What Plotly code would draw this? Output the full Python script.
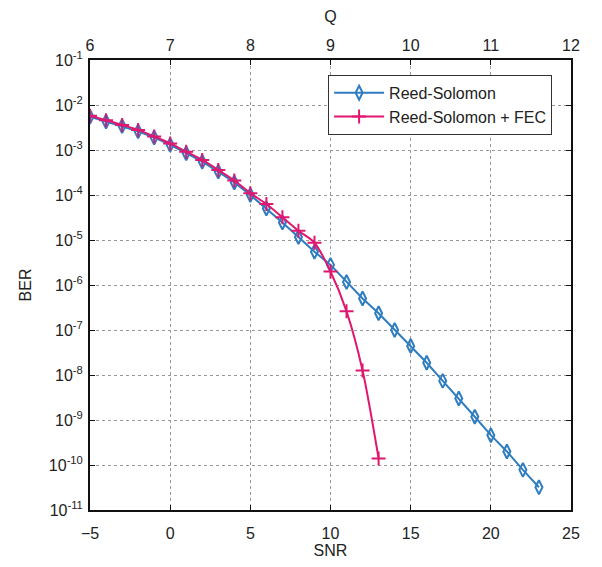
import plotly.graph_objects as go

snr_rs = list(range(-5, 24))
ber_rs = [5.5e-3, 4.3e-3, 3.4e-3, 2.6e-3, 1.9e-3, 1.3e-3, 8.5e-4, 5.5e-4, 3.3e-4, 1.9e-4,
          1.0e-4, 5.0e-5, 2.45e-5, 1.17e-5, 5.5e-6, 2.8e-6, 1.17e-6, 5.0e-7, 2.35e-7, 1.0e-7,
          4.4e-8, 1.87e-8, 7.4e-9, 3.0e-9, 1.18e-9, 4.6e-10, 2.0e-10, 7.8e-11, 3.2e-11]

snr_fec = list(range(-5, 14))
ber_fec = [5.8e-3, 4.6e-3, 3.6e-3, 2.8e-3, 2.0e-3, 1.4e-3, 9.2e-4, 6.0e-4, 3.6e-4, 2.1e-4,
           1.1e-4, 6.3e-5, 3.2e-5, 1.6e-5, 8.7e-6, 2.0e-6, 2.6e-7, 1.26e-8, 1.4e-10]

q_ticks = [6, 7, 8, 9, 10, 11, 12]
snr_ticks = [-5, 0, 5, 10, 15, 20, 25]
y_exps = list(range(-11, 0))

BLUE = "#2f7dc1"
MAG = "#e0176f"
FONT = "Liberation Sans, Arial, sans-serif"

fig = go.Figure()
fig.add_trace(go.Scatter(
    x=snr_rs, y=ber_rs, name="Reed-Solomon", mode="lines+markers",
    line=dict(color=BLUE, width=2),
    marker=dict(symbol="diamond-tall-open", size=10, color=BLUE, line=dict(width=2, color=BLUE)),
))
fig.add_trace(go.Scatter(
    x=snr_fec, y=ber_fec, name="Reed-Solomon + FEC", mode="lines+markers",
    line=dict(color=MAG, width=2, shape="spline", smoothing=0.8),
    marker=dict(symbol="cross-thin-open", size=10, color=MAG, line=dict(width=2, color=MAG)),
))
# invisible trace on top Q axis
fig.add_trace(go.Scatter(x=q_ticks, y=[1e-1] * len(q_ticks), xaxis="x2", mode="markers",
                         marker=dict(opacity=0), showlegend=False, hoverinfo="skip"))

axis_common = dict(
    showline=True, linecolor="#111", linewidth=2,
    ticks="inside", ticklen=5, tickcolor="#111", tickwidth=1,
    tickfont=dict(family=FONT, size=16, color="#222"),
    zeroline=False, automargin=False,
)
title_font = dict(family=FONT, size=16, color="#222")

fig.update_layout(
    width=594, height=559,
    margin=dict(l=82, r=31, t=52, b=57),
    paper_bgcolor="white", plot_bgcolor="white",
    font=dict(family=FONT, size=16, color="#222"),
    xaxis=dict(
        range=[-5, 25], tickvals=snr_ticks, mirror=True,
        showgrid=True, gridcolor="#999", griddash="dot", gridwidth=1,
        ticklabelstandoff=8,
        title=dict(text="SNR", font=title_font, standoff=0),
        **axis_common,
    ),
    xaxis2=dict(
        range=[6, 12], tickvals=q_ticks, overlaying="x", side="top", anchor="y",
        showgrid=False, ticklabelstandoff=1,
        title=dict(text="Q", font=title_font, standoff=19),
        **axis_common,
    ),
    yaxis=dict(
        type="log", range=[-11, -1], mirror="ticks",
        tickvals=[10.0 ** e for e in y_exps],
        ticktext=["10<sup>%d</sup>" % e for e in y_exps],
        showgrid=True, gridcolor="#999", griddash="dot", gridwidth=1,
        ticklabelstandoff=2,
        title=dict(text="BER", font=title_font, standoff=13),
        **axis_common,
    ),
    legend=dict(
        x=0.495, y=0.967, xanchor="left", yanchor="top",
        bgcolor="white", bordercolor="#333", borderwidth=1,
        font=dict(family=FONT, size=16, color="#222"),
        itemwidth=50, tracegroupgap=2,
    ),
)

fig.write_html("out.html")
